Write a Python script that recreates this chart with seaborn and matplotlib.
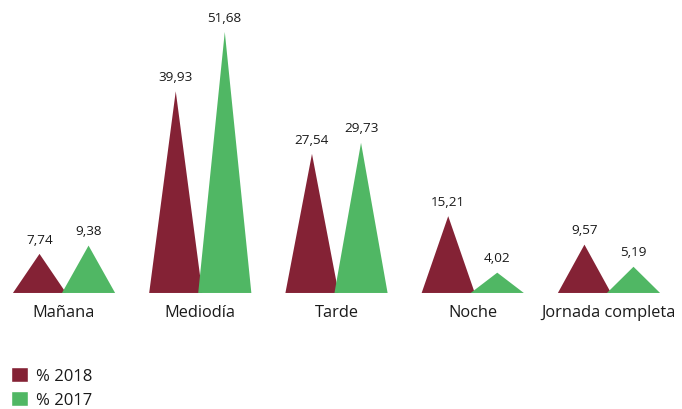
import matplotlib
matplotlib.use("Agg")
import matplotlib.pyplot as plt
from matplotlib.patches import Polygon, Patch
import seaborn as sns
import pandas as pd

categories = ["Mañana", "Mediodía", "Tarde", "Noche", "Jornada completa"]
vals_2018 = [7.74, 39.93, 27.54, 15.21, 9.57]
vals_2017 = [9.38, 51.68, 29.73, 4.02, 5.19]
series_names = ["% 2018", "% 2017"]
colors = ["#842235", "#50b764"]

df = pd.DataFrame({
    "cat": categories * 2,
    "val": vals_2018 + vals_2017,
    "serie": [series_names[0]] * 5 + [series_names[1]] * 5,
})

sns.set_style("white")
plt.rcParams["font.family"] = ["Open Sans", "DejaVu Sans"]

fig = plt.figure(figsize=(6.82, 4.10), dpi=100)
ax = fig.add_axes([0, 0.283, 1, 0.717])
sns.barplot(data=df, x="cat", y="val", hue="serie", palette=colors,
            width=0.72, saturation=1, ax=ax, legend=False)

half = 0.195
for patch in list(ax.patches):
    h = patch.get_height()
    if h <= 0:
        continue
    cx = patch.get_x() + patch.get_width() / 2
    fc = patch.get_facecolor()
    patch.set_visible(False)
    tri = Polygon([[cx - half, 0], [cx + half, 0], [cx, h]], closed=True,
                  facecolor=fc, edgecolor="none")
    ax.add_patch(tri)
    ax.annotate(f"{h:.2f}".replace(".", ","), (cx, h), xytext=(0, 6),
                textcoords="offset points", ha="center", va="bottom",
                fontsize=9.7, color="#1a1a1a")

ax.set_xlim(-0.47, 4.536)
ax.set_ylim(0, 58.2)
ax.set_xlabel("")
ax.set_ylabel("")
ax.set_yticks([])
ax.tick_params(axis="x", length=0, pad=8, labelsize=11.8, labelcolor="#1a1a1a")
for s in ax.spines.values():
    s.set_visible(False)
ax.patch.set_alpha(0)

handles = [Patch(facecolor=colors[0]), Patch(facecolor=colors[1])]
fig.legend(handles, series_names, loc="upper left",
           bbox_to_anchor=(11 / 682, 1 - 368 / 410),
           borderaxespad=0, borderpad=0,
           frameon=False, fontsize=12, handlelength=1.0, handleheight=1.0,
           handletextpad=0.5, labelspacing=0.4, labelcolor="#1a1a1a")

fig.savefig("out.png", dpi=100)
